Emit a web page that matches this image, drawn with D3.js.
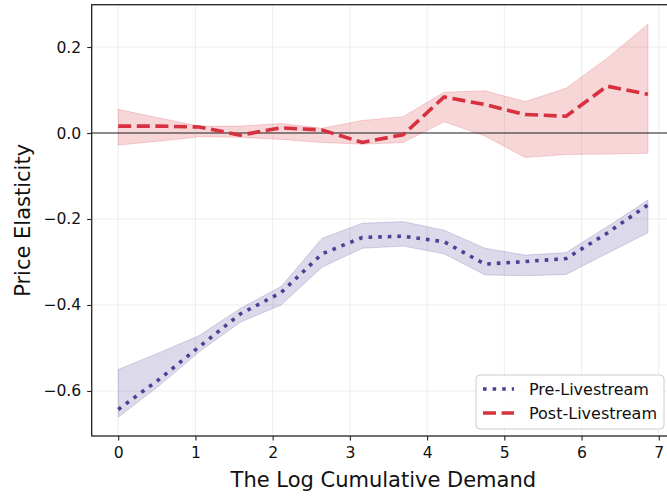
<!DOCTYPE html>
<html>
<head>
<meta charset="utf-8">
<script src="https://cdn.jsdelivr.net/npm/d3@7"></script>
<style>
  html, body { margin: 0; padding: 0; background: #fff; }
  svg { display: block; font-family: "DejaVu Sans", sans-serif; }
  .tick text { font-family: "DejaVu Sans", sans-serif; font-size: 15.6px; }
</style>
</head>
<body>
<svg id="chart" width="667" height="497"></svg>
<script>
// Log cumulative demand bins
const demand = [0, 0.53, 1.05, 1.58, 2.11, 2.64, 3.16, 3.69, 4.22, 4.75, 5.27, 5.80, 6.33, 6.86];

// Pre-livestream elasticity with confidence band
const preMean  = [-0.643, -0.573, -0.497, -0.421, -0.371, -0.281, -0.243, -0.240, -0.253, -0.305, -0.299, -0.292, -0.233, -0.167];
const preUpper = [-0.550, -0.511, -0.471, -0.408, -0.357, -0.245, -0.210, -0.206, -0.226, -0.268, -0.284, -0.278, -0.218, -0.156];
const preLower = [-0.661, -0.588, -0.509, -0.440, -0.400, -0.312, -0.268, -0.263, -0.281, -0.330, -0.332, -0.329, -0.280, -0.232];

// Post-livestream elasticity with confidence band
const postMean  = [0.016, 0.016, 0.014, -0.005, 0.012, 0.007, -0.022, -0.004, 0.084, 0.066, 0.043, 0.039, 0.109, 0.090];
const postUpper = [0.055, 0.035, 0.016, 0.016, 0.022, 0.011, 0.029, 0.038, 0.095, 0.098, 0.073, 0.104, 0.174, 0.253];
const postLower = [-0.028, -0.019, -0.009, -0.010, -0.015, -0.022, -0.026, -0.022, 0.026, -0.007, -0.057, -0.050, -0.049, -0.047];

const xTicks = [0, 1, 2, 3, 4, 5, 6, 7];
const yTicks = [-0.6, -0.4, -0.2, 0.0, 0.2];
const seriesNames = ["Pre-Livestream", "Post-Livestream"];

const preColor = "#4b3f96";
const postColor = "#d7303e";
const FONT = "DejaVu Sans";

const svg = d3.select("#chart");
const plot = { left: 91.7, top: 4.7, right: 675, bottom: 436 };

const x = d3.scaleLinear().domain([-0.343, 7.21]).range([plot.left, plot.right]);
const y = d3.scaleLinear().domain([-0.7047, 0.2984]).range([plot.bottom, plot.top]);

const g = svg.append("g");

// grid
g.append("g").selectAll("line").data(xTicks).join("line")
  .attr("x1", d => x(d)).attr("x2", d => x(d))
  .attr("y1", plot.top).attr("y2", plot.bottom)
  .attr("stroke", "#ebebeb").attr("stroke-width", 0.9);
g.append("g").selectAll("line").data(yTicks).join("line")
  .attr("x1", plot.left).attr("x2", plot.right)
  .attr("y1", d => y(d)).attr("y2", d => y(d))
  .attr("stroke", "#ebebeb").attr("stroke-width", 0.9);

const rows = (lo, mid, hi) => demand.map((d, i) => ({ x: d, lo: lo[i], m: mid[i], hi: hi[i] }));
const preRows = rows(preLower, preMean, preUpper);
const postRows = rows(postLower, postMean, postUpper);

const area = d3.area().x(d => x(d.x)).y0(d => y(d.lo)).y1(d => y(d.hi));
const line = d3.line().x(d => x(d.x)).y(d => y(d.m));

// confidence bands
[[preRows, preColor], [postRows, postColor]].forEach(([data, c]) => {
  g.append("path").datum(data).attr("d", area)
    .attr("fill", c).attr("fill-opacity", 0.2)
    .attr("stroke", c).attr("stroke-opacity", 0.2).attr("stroke-width", 1);
});

// zero reference line
g.append("line")
  .attr("x1", plot.left).attr("x2", plot.right)
  .attr("y1", y(0)).attr("y2", y(0))
  .attr("stroke", "#222").attr("stroke-width", 1);

// mean lines
g.append("path").datum(preRows).attr("d", line)
  .attr("fill", "none").attr("stroke", preColor)
  .attr("stroke-width", 3.6).attr("stroke-dasharray", "3.6,6");
g.append("path").datum(postRows).attr("d", line)
  .attr("fill", "none").attr("stroke", postColor)
  .attr("stroke-width", 3.6).attr("stroke-dasharray", "13,5.6");

// axes
const xAxis = d3.axisBottom(x).tickValues(xTicks).tickSize(4.5).tickPadding(6).tickFormat(d3.format("d"));
const yAxis = d3.axisLeft(y).tickValues(yTicks).tickSize(4.5).tickPadding(6)
  .tickFormat(d => d3.format(".1f")(d));

const gx = svg.append("g").attr("transform", `translate(0,${plot.bottom})`).call(xAxis);
const gy = svg.append("g").attr("transform", `translate(${plot.left},0)`).call(yAxis);
[gx, gy].forEach(a => {
  a.attr("font-family", FONT).attr("font-size", 15.6);
  a.select(".domain").remove();
  a.selectAll(".tick line").attr("stroke", "#222").attr("stroke-width", 1.1);
  a.selectAll(".tick text").attr("fill", "#111");
});

// spines
svg.append("rect")
  .attr("x", plot.left).attr("y", plot.top)
  .attr("width", plot.right - plot.left).attr("height", plot.bottom - plot.top)
  .attr("fill", "none").attr("stroke", "#222").attr("stroke-width", 1.3);

// axis titles
svg.append("text")
  .attr("x", (plot.left + plot.right) / 2).attr("y", 487)
  .attr("text-anchor", "middle").style("font-size", "21px").attr("fill", "#111")
  .text("The Log Cumulative Demand");
svg.append("text")
  .attr("transform", `translate(30,${(plot.top + plot.bottom) / 2}) rotate(-90)`)
  .attr("text-anchor", "middle").style("font-size", "21px").attr("fill", "#111")
  .text("Price Elasticity");

// legend
const lg = svg.append("g").attr("transform", "translate(476,375)");
lg.append("rect").attr("width", 188).attr("height", 54).attr("rx", 4)
  .attr("fill", "#fff").attr("fill-opacity", 0.8)
  .attr("stroke", "#cccccc").attr("stroke-width", 1);
const legendItems = [
  { name: seriesNames[0], color: preColor, dash: "3.6,6" },
  { name: seriesNames[1], color: postColor, dash: "13,5.6" }
];
legendItems.forEach((it, i) => {
  const cy = 14 + i * 24;
  lg.append("line").attr("x1", 7).attr("x2", 38).attr("y1", cy).attr("y2", cy)
    .attr("stroke", it.color).attr("stroke-width", 3.6).attr("stroke-dasharray", it.dash);
  lg.append("text").attr("x", 53).attr("y", cy + 5.5)
    .style("font-size", "16px").attr("fill", "#111").text(it.name);
});
</script>
</body>
</html>
